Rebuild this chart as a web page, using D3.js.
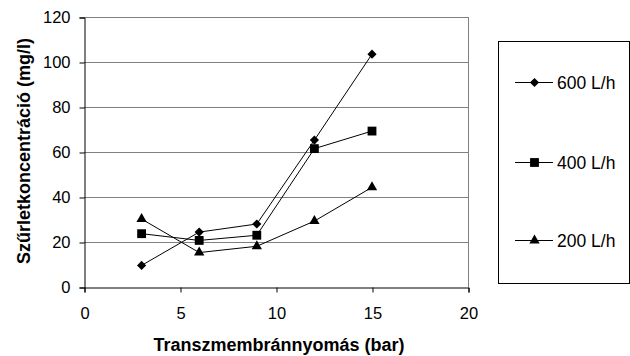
<!DOCTYPE html>
<html lang="en">
<head>
<meta charset="UTF-8">
<title>Szűrletkoncentráció</title>
<style>
  body, html { margin: 0; padding: 0; background: #fff; }
  svg { display: block; font-family: 'Liberation Sans', Arial, sans-serif; }
</style>
</head>
<body>
<div id="container"></div>
<script src="https://d3js.org/d3.v7.min.js"></script>
<script>
  // -------- DATA ------------
  const pressure = [3, 6, 9, 12, 15]
  const seriesNames = ["600 L/h", "400 L/h", "200 L/h"]
  const flow600 = [9.6, 24.4, 28, 65.3, 103.5]
  const flow400 = [23.7, 20.7, 23, 61.5, 69.3]
  const flow200 = [30.2, 15.3, 18.1, 29.3, 44.3]
  const xTicks = [0, 5, 10, 15, 20]
  const yTicks = [0, 20, 40, 60, 80, 100, 120]

  // diamond = square turned 45 degrees
  const series = [
    { name: seriesNames[0], values: flow600, symbol: d3.symbolSquare, size: 42, rotate: 45 },
    { name: seriesNames[1], values: flow400, symbol: d3.symbolSquare, size: 78, rotate: 0 },
    { name: seriesNames[2], values: flow200, symbol: d3.symbolTriangle, size: 46, rotate: 0 }
  ]

  const W = 630, H = 356
  const plot = { left: 84, right: 468, top: 17, bottom: 287 }

  const svg = d3.select('#container').append('svg')
    .attr('width', W).attr('height', H)

  // -------- SCALES ------------
  const xScale = d3.scaleLinear().domain([0, 20]).range([plot.left, plot.right])
  const yScale = d3.scaleLinear().domain([0, 120]).range([plot.bottom, plot.top])

  // gridlines
  svg.append('g')
    .selectAll('line')
    .data(yTicks.filter(d => d > 0))
    .join('line')
    .attr('x1', plot.left).attr('x2', plot.right)
    .attr('y1', d => yScale(d) + 0.5).attr('y2', d => yScale(d) + 0.5)
    .attr('stroke', '#808080').attr('stroke-width', 1)

  // right frame
  svg.append('line')
    .attr('x1', plot.right + 0.5).attr('x2', plot.right + 0.5)
    .attr('y1', plot.top).attr('y2', plot.bottom)
    .attr('stroke', '#808080')

  // -------- AXES --------------
  const leftAxis = d3.axisLeft(yScale).tickValues(yTicks).tickSize(5).tickPadding(9)
  const bottomAxis = d3.axisBottom(xScale).tickValues(xTicks).tickSize(5).tickPadding(15)

  const gy = svg.append('g')
    .attr('transform', `translate(${plot.left + 0.5},0.5)`)
    .call(leftAxis)
  const gx = svg.append('g')
    .attr('transform', `translate(0.5,${plot.bottom + 0.5})`)
    .call(bottomAxis)

  // axis() puts font-size 10 on the group, override it there
  gy.attr('font-size', 16.5).attr('font-family', "'Liberation Sans', Arial, sans-serif")
  gx.attr('font-size', 16.5).attr('font-family', "'Liberation Sans', Arial, sans-serif")
  gy.select('.domain').attr('stroke', '#000')
  gx.select('.domain').attr('stroke', '#000')
  gy.selectAll('.tick text').attr('font-size', 16.5).attr('fill', '#000')
  gx.selectAll('.tick text').attr('font-size', 16.5).attr('fill', '#000')

  // axis titles
  svg.append('text')
    .attr('transform', 'translate(30, 151) rotate(-90)')
    .attr('text-anchor', 'middle')
    .style('font-size', '18px')
    .style('font-weight', 'bold')
    .text('Szűrletkoncentráció (mg/l)')

  svg.append('text')
    .attr('x', 279)
    .attr('y', 351)
    .attr('text-anchor', 'middle')
    .style('font-size', '18px')
    .style('font-weight', 'bold')
    .text('Transzmembránnyomás (bar)')

  // -------- DRAW ------------
  const line = d3.line()
    .x((d, i) => xScale(pressure[i]))
    .y(d => yScale(d))

  series.forEach(s => {
    svg.append('path')
      .datum(s.values)
      .attr('d', line)
      .attr('fill', 'none')
      .attr('stroke', '#000')
      .attr('stroke-width', 1)

    svg.append('g')
      .selectAll('path')
      .data(s.values)
      .join('path')
      .attr('transform', (d, i) => `translate(${xScale(pressure[i])},${yScale(d)}) rotate(${s.rotate})`)
      .attr('d', d3.symbol().type(s.symbol).size(s.size))
      .attr('fill', '#000')
  })

  // -------- LEGEND ------------
  const legend = svg.append('g')
  legend.append('rect')
    .attr('x', 498.5).attr('y', 41.5)
    .attr('width', 131).attr('height', 242)
    .attr('fill', '#fff').attr('stroke', '#000')

  const rowY = [82, 162, 240]
  series.forEach((s, i) => {
    const y = rowY[i]
    legend.append('line')
      .attr('x1', 515).attr('x2', 553)
      .attr('y1', y + 0.5).attr('y2', y + 0.5)
      .attr('stroke', '#000')
    legend.append('path')
      .attr('transform', `translate(534.5,${y + 0.5}) rotate(${s.rotate})`)
      .attr('d', d3.symbol().type(s.symbol).size(s.size))
      .attr('fill', '#000')
    legend.append('text')
      .attr('x', 557).attr('y', y + 6.5)
      .style('font-size', '17.5px')
      .text(s.name)
  })
</script>
</body>
</html>
